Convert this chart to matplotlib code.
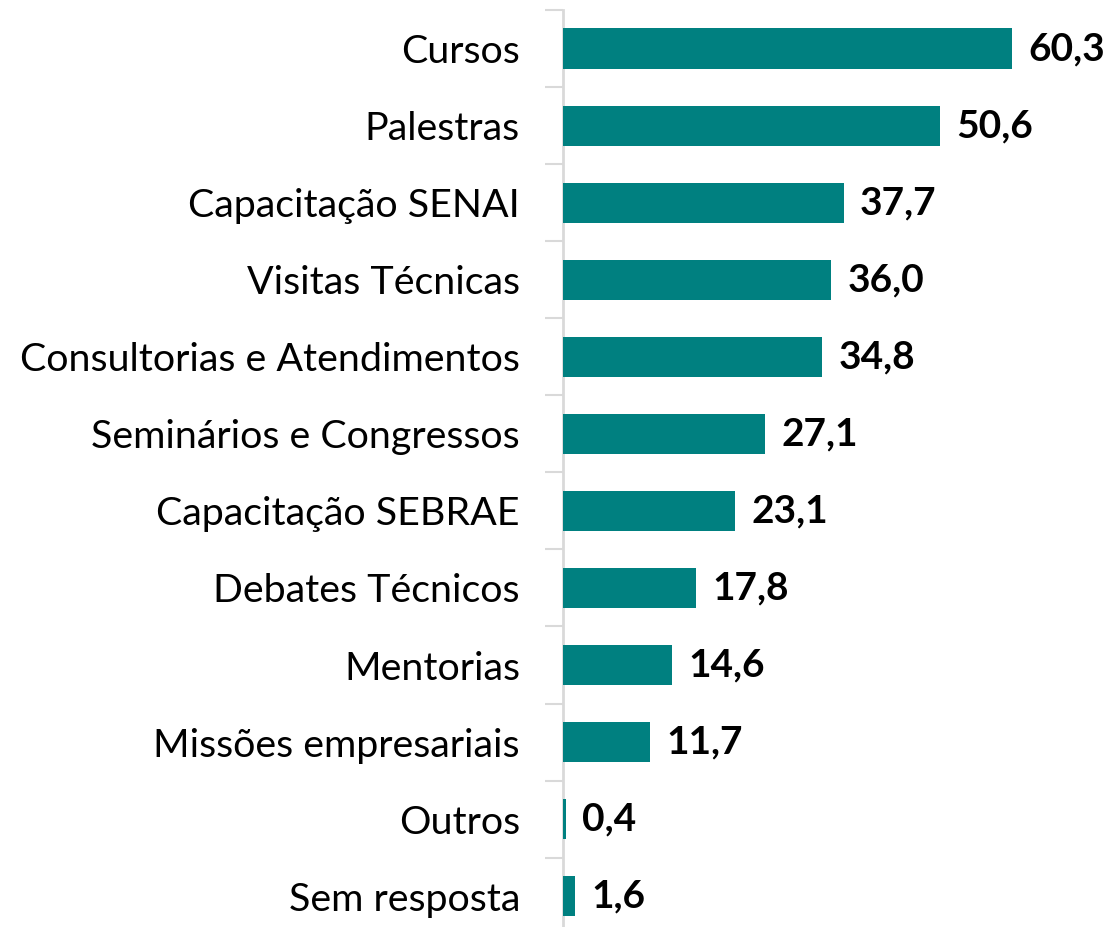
import matplotlib
matplotlib.use("Agg")
from matplotlib import pyplot as plt
import numpy as np

# categories and values (percent)
categorias = ["Cursos", "Palestras", "Capacitação SENAI", "Visitas Técnicas",
              "Consultorias e Atendimentos", "Seminários e Congressos",
              "Capacitação SEBRAE", "Debates Técnicos", "Mentorias",
              "Missões empresariais", "Outros", "Sem resposta"]
valores = [60.3, 50.6, 37.7, 36.0, 34.8, 27.1, 23.1, 17.8, 14.6, 11.7, 0.4, 1.6]

plt.rcParams['font.family'] = ['Lato', 'DejaVu Sans']

fig = plt.figure(figsize=(11.07, 9.27), dpi=100)
ax = fig.add_axes([563 / 1107, 0, 544 / 1107, 917 / 927])

y = np.arange(len(categorias))
ax.barh(y, valores, height=0.52, color="#008080", zorder=3)

for yi, v in zip(y, valores):
    ax.text(v + 2.2, yi, f"{v:.1f}".replace(".", ","), va="center", ha="left",
            fontsize=28, fontweight="bold", color="black")

ax.set_xlim(0, 73.06)
ax.set_ylim(11.4, -0.5)

ax.set_yticks(y)
ax.set_yticklabels(categorias, fontsize=28.4)
ax.tick_params(axis="y", which="major", length=0, pad=31)
ax.set_yticks(np.arange(-0.5, 11.5, 1.0), minor=True)
ax.tick_params(axis="y", which="minor", length=13, width=1.5, color="#d9d9d9")
ax.set_xticks([])

for s in ["top", "right", "bottom"]:
    ax.spines[s].set_visible(False)
ax.spines["left"].set_color("#d9d9d9")
ax.spines["left"].set_linewidth(2)

fig.savefig("out.png", dpi=100)
